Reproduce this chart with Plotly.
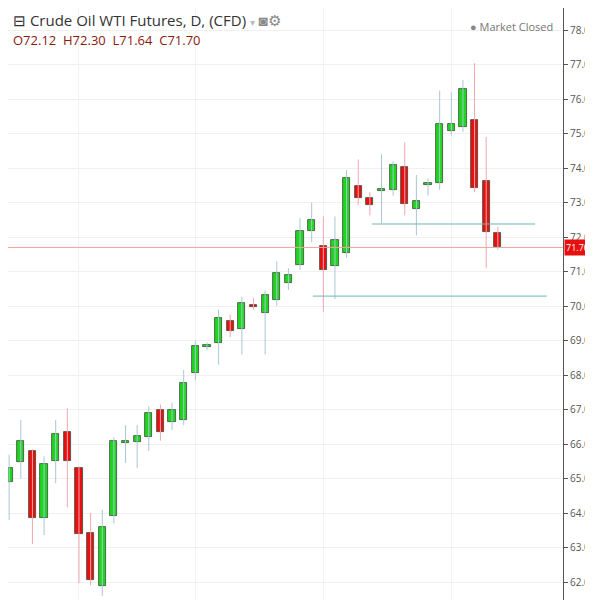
import plotly.graph_objects as go

# daily OHLC
opens = [64.9, 65.48, 65.8, 63.85, 65.5, 66.35, 65.3, 63.42, 61.88, 63.91, 66.03, 66.06,
         66.2, 67.0, 66.64, 66.7, 68.06, 68.82, 68.93, 69.57, 69.33, 70.02, 69.8, 70.17,
         70.67, 71.19, 72.17, 71.74, 71.16, 71.54, 73.48, 73.13, 73.33, 73.36, 74.03, 72.81,
         73.52, 73.57, 75.07, 75.19, 75.39, 73.62, 72.12]
highs = [65.7, 66.7, 65.85, 65.65, 66.7, 67.04, 65.35, 64.0, 64.1, 66.2, 66.55, 66.55,
         67.1, 67.15, 67.2, 68.15, 69.0, 68.95, 69.9, 69.75, 70.27, 70.23, 70.45, 71.3,
         71.1, 72.55, 73.0, 72.6, 72.6, 73.95, 74.25, 73.3, 74.4, 74.2, 74.75, 73.8,
         73.7, 76.25, 76.2, 76.55, 77.04, 74.9, 72.3]
lows = [63.8, 65.0, 63.1, 63.36, 64.87, 64.17, 61.97, 61.9, 61.6, 63.7, 65.45, 65.3,
        65.8, 66.1, 66.4, 66.55, 67.85, 68.72, 68.3, 69.1, 68.6, 69.9, 68.6, 70.0,
        70.47, 71.05, 71.85, 69.83, 70.2, 71.4, 72.93, 72.63, 72.4, 73.2, 72.63, 72.05,
        73.2, 73.37, 74.95, 75.05, 73.3, 71.1, 71.64]
closes = [65.3, 66.1, 63.85, 65.42, 66.29, 65.5, 63.39, 62.06, 63.6, 66.09, 66.09, 66.23,
          66.9, 66.35, 67.0, 67.77, 68.84, 68.86, 69.65, 69.28, 70.09, 69.98, 70.32, 70.96,
          70.9, 72.17, 72.49, 71.04, 71.91, 73.71, 73.13, 72.93, 73.36, 74.09, 72.96, 73.04,
          73.56, 75.28, 75.28, 76.29, 73.42, 72.14, 71.70]

levels = [72.38, 70.29]
level_x = [(31.2, 45.2), (26.1, 46.2)]
last_price = 71.70
ticks = list(range(62, 79))

GREEN, RED = "#1fd51f", "#e8100f"
n = len(opens)
xs = list(range(n))

fig = go.Figure()

for up, wick_col, body_col in [(True, "#a9c7d6", GREEN), (False, "#f2a7ad", RED)]:
    wx, wy, bx, base, h = [], [], [], [], []
    for i in xs:
        if (closes[i] >= opens[i]) != up:
            continue
        wx += [i, i, None]
        wy += [lows[i], highs[i], None]
        bx.append(i)
        lo, hi = min(opens[i], closes[i]), max(opens[i], closes[i])
        base.append(lo)
        h.append(max(hi - lo, 0.05))
    fig.add_trace(go.Scatter(x=wx, y=wy, mode="lines",
                             line=dict(color=wick_col, width=1), hoverinfo="skip"))
    fig.add_trace(go.Bar(x=bx, y=h, base=base, width=0.62,
                         marker=dict(color=body_col, line=dict(color="#3a4a3a", width=0.8))))

for lv, (x0, x1) in zip(levels, level_x):
    fig.add_shape(type="line", x0=x0, x1=x1, y0=lv, y1=lv,
                  line=dict(color="#6fb6b0", width=1))
fig.add_shape(type="line", xref="paper", x0=0, x1=1, y0=last_price, y1=last_price,
              line=dict(color="#f3a49b", width=1))

fig.add_annotation(x=1, xref="paper", xanchor="left", y=last_price, text=f"{last_price:.2f}",
                   showarrow=False, bgcolor="#e8100f", font=dict(color="white", size=9),
                   borderpad=1, xshift=1)
fig.add_annotation(x=0.005, y=1.0, xref="paper", yref="paper", xanchor="left", yanchor="top",
                   text="⊟ Crude Oil WTI Futures, D, (CFD) <span style='color:#bbb;font-size:10px'>▾</span>"
                        " <span style='color:#888'>◙⚙</span>",
                   showarrow=False, font=dict(size=15, color="#333", family="Open Sans"))
fig.add_annotation(x=0.005, y=0.965, xref="paper", yref="paper", xanchor="left", yanchor="top",
                   text=f"O{opens[-1]:.2f}  H{highs[-1]:.2f}  L{lows[-1]:.2f}  C{closes[-1]:.2f}",
                   showarrow=False, font=dict(size=13, color="#8b1a10", family="Open Sans"))
fig.add_annotation(x=0.985, y=0.985, xref="paper", yref="paper", xanchor="right", yanchor="top",
                   text="<span style='color:#888'>●</span> Market Closed",
                   showarrow=False, font=dict(size=11, color="#777", family="Open Sans"))

fig.update_layout(
    width=593, height=600, showlegend=False, bargap=0, barmode="overlay",
    margin=dict(l=0, r=38, t=0, b=0),
    plot_bgcolor="white", paper_bgcolor="white",
    font=dict(family="Open Sans"),
    xaxis=dict(range=[-0.1, 47.6], showticklabels=False, tickvals=[6, 16, 27, 38],
               gridcolor="#f2f2f2", zeroline=False),
    yaxis=dict(side="right", range=[61.25, 78.64], tickvals=ticks,
               ticktext=[f"{t:.2f}" for t in ticks], tickfont=dict(size=10, color="#555"),
               gridcolor="#f0f0f0", zeroline=False, showline=True, linecolor="#555",
               ticks="outside", ticklen=4, tickcolor="#555"),
)

fig.write_html("out.html")
